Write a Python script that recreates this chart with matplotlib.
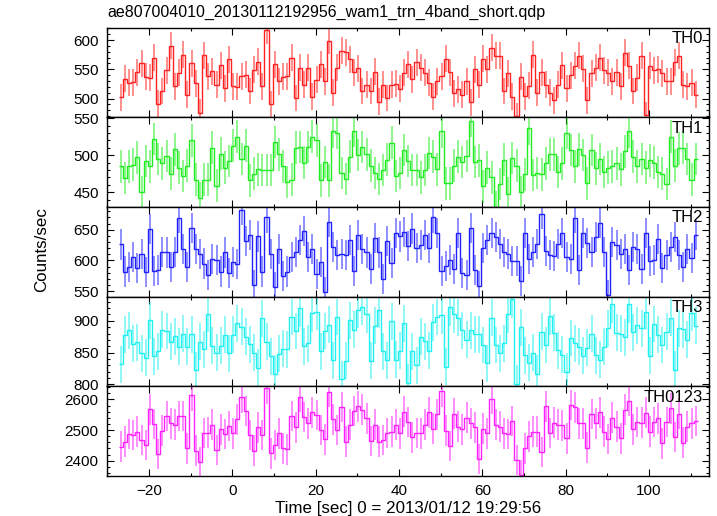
import numpy as np
import matplotlib
matplotlib.use("Agg")
import matplotlib.pyplot as plt
from matplotlib.ticker import MultipleLocator

plt.rcParams['font.family'] = ['Liberation Sans', 'DejaVu Sans']

title = "ae807004010_20130112192956_wam1_trn_4band_short.qdp"
xlabel = "Time [sec] 0 = 2013/01/12 19:29:56"
ylabel = "Counts/sec"
band_names = ["TH0", "TH1", "TH2", "TH3", "TH0123"]
colors = ["#ff2020", "#20ee20", "#2020ff", "#20f0f0", "#ff20ff"]

t_first_edge = -27.3
bin_width = 1.0

th0 = [502,534,527,528,545,560,537,536,570,491,
       513,548,590,521,544,575,507,560,526,476,
       574,538,547,524,557,518,567,521,520,538,
       541,513,549,563,521,617,490,559,530,537,
       538,570,501,553,524,553,503,532,559,530,
       599,510,553,582,579,567,545,552,513,524,
       513,546,495,524,501,524,525,517,544,559,
       533,562,553,544,527,503,530,538,568,545,
       509,516,507,530,494,550,524,568,550,587,
       573,573,513,543,503,470,537,504,522,575,
       510,545,524,510,497,524,557,518,540,556,
       573,551,497,543,553,570,548,544,530,545,
       521,578,556,513,536,573,472,556,548,550,
       543,530,530,562,573,524,521,527,507]

th1 = [485,469,485,487,497,450,492,485,522,495,
       489,499,475,508,483,472,486,520,467,442,
       467,467,510,459,502,483,492,513,525,495,
       513,466,475,481,480,480,480,518,501,485,
       464,467,510,511,490,511,525,520,466,491,
       466,532,530,476,468,498,533,500,511,501,
       486,476,468,480,494,517,472,476,507,492,
       480,480,470,480,503,498,481,532,462,462,
       486,498,491,499,546,491,493,458,483,470,
       430,461,494,448,496,486,450,474,536,473,
       476,474,489,501,501,477,489,530,507,485,
       508,500,462,507,482,495,477,483,485,489,
       481,505,532,498,485,495,483,493,490,477,
       475,461,525,486,509,510,495,467,495]

th2 = [626,582,590,605,587,610,581,651,583,585,
       614,613,589,614,669,619,589,653,619,610,
       595,577,602,601,582,613,579,598,594,682,
       632,641,560,639,582,670,610,556,618,574,
       582,605,614,634,648,606,619,578,598,548,
       662,622,609,611,609,633,583,642,619,613,
       586,637,613,570,632,596,644,639,647,624,
       652,620,625,642,620,670,644,583,591,601,
       586,644,580,576,653,585,559,620,633,644,
       638,627,614,611,599,599,566,644,602,614,
       627,676,616,609,607,627,644,605,603,669,
       584,644,628,614,638,661,614,544,630,625,
       611,618,584,622,618,586,645,599,601,635,
       587,609,622,638,609,590,619,604,642]

th3 = [832,878,885,864,866,849,842,901,844,852,
       886,884,867,876,859,880,859,879,822,867,
       855,911,861,850,861,878,849,878,896,891,
       875,863,850,826,904,867,844,817,848,856,
       855,906,884,920,860,865,912,914,852,884,
       894,838,906,808,837,901,886,917,922,910,
       837,892,917,852,838,899,839,853,896,803,
       852,830,875,868,853,898,906,909,828,921,
       910,905,885,870,885,879,879,862,833,905,
       862,849,865,910,934,801,890,846,834,850,
       817,883,862,907,881,854,847,820,873,865,
       859,845,858,880,846,839,859,888,926,881,
       880,874,926,882,893,888,914,845,895,878,
       862,883,905,823,888,887,870,913,892]

th0123 = [2446,2462,2487,2484,2495,2467,2451,2568,2520,2422,
          2498,2546,2522,2518,2546,2546,2440,2614,2433,2396,
          2491,2492,2518,2435,2502,2487,2513,2489,2535,2607,
          2563,2484,2433,2509,2484,2636,2424,2451,2489,2440,
          2437,2546,2509,2609,2543,2522,2558,2549,2500,2470,
          2625,2535,2500,2576,2462,2518,2562,2578,2567,2538,
          2464,2518,2462,2467,2491,2495,2518,2489,2560,2527,
          2476,2491,2489,2518,2558,2505,2551,2627,2498,2448,
          2554,2511,2502,2541,2522,2509,2405,2505,2489,2603,
          2518,2511,2489,2487,2530,2402,2353,2440,2480,2495,
          2495,2429,2578,2491,2524,2518,2516,2473,2582,2574,
          2522,2522,2443,2552,2522,2558,2495,2471,2541,2511,
          2473,2567,2596,2502,2527,2524,2557,2495,2527,2538,
          2457,2527,2571,2478,2554,2459,2511,2522,2530]

errors = [23, 22, 24.5, 29, 50]
ylims = [(468, 621), (430, 551), (541, 687), (797, 938), (2350, 2643)]
ymajor = [50, 50, 50, 50, 100]
yminor = [10, 10, 10, 10, 20]
xlim = (-30.1, 114.4)

series = [th0, th1, th2, th3, th0123]

fig = plt.figure(figsize=(7.17, 5.16), dpi=100)
left, right = 107 / 717, 709 / 717
top, bottom = 1 - 27.7 / 516, 1 - 476 / 516
h = (top - bottom) / 5

for k, (vals, name, col) in enumerate(zip(series, band_names, colors)):
    vals = np.asarray(vals, dtype=float)
    n = len(vals)
    edges = t_first_edge + bin_width * np.arange(n + 1)
    centers = 0.5 * (edges[:-1] + edges[1:])
    ax = fig.add_axes([left, top - (k + 1) * h, right - left, h])
    ax.errorbar(centers, vals, yerr=errors[k], fmt='none', ecolor=col,
                elinewidth=1.4, alpha=0.5, capsize=0)
    ax.stairs(vals, edges, color=col, lw=1.0, baseline=None)
    ax.set_xlim(*xlim)
    ax.set_ylim(*ylims[k])
    ax.xaxis.set_major_locator(MultipleLocator(20))
    ax.xaxis.set_minor_locator(MultipleLocator(10))
    ax.yaxis.set_major_locator(MultipleLocator(ymajor[k]))
    ax.yaxis.set_minor_locator(MultipleLocator(yminor[k]))
    ax.tick_params(which='both', direction='in', top=True, right=True,
                   width=0.8, labelsize=11)
    ax.tick_params(which='major', length=5, pad=6)
    ax.tick_params(which='minor', length=2.5)
    for sp in ax.spines.values():
        sp.set_linewidth(1.0)
    if k < 4:
        ax.tick_params(labelbottom=False)
    ax.text(0.99, 0.88, name, transform=ax.transAxes, ha='right',
            va='center', fontsize=12)

fig.text(left, 1 - 12 / 516, title, ha='left', va='center', fontsize=11.5)
fig.text((left + right) / 2, 8 / 516, xlabel, ha='center', va='center', fontsize=12.2)
fig.text(42 / 717, 1 - 250 / 516, ylabel, ha='center', va='center',
         rotation=90, fontsize=12.2)

fig.savefig("out.png", dpi=100)
